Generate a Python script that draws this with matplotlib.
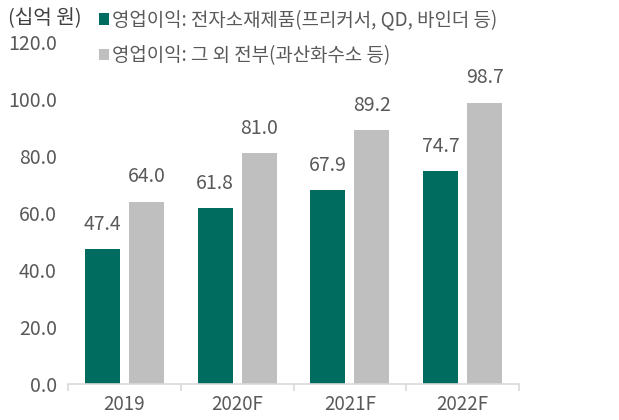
import matplotlib.pyplot as plt
import numpy as np

plt.rcParams['font.family'] = ['Noto Sans CJK KR', 'DejaVu Sans']

anni = ['2019', '2020F', '2021F', '2022F']
elettronica = [47.4, 61.8, 67.9, 74.7]
altro = [64.0, 81.0, 89.2, 98.7]
etichette = ['영업이익: 전자소재제품(프리커서, QD, 바인더 등)', '영업이익: 그 외 전부(과산화수소 등)']

verde = '#006B5F'
grigio = '#BFBFBF'
testo = '#595959'

fig = plt.figure(figsize=(6.19, 4.2), dpi=100)
ax = fig.add_axes([68/619, 36/420, 451/619, 342/420])

x = np.arange(len(anni))
w = 0.31
b1 = ax.bar(x - 0.195, elettronica, w, color=verde, label=etichette[0])
b2 = ax.bar(x + 0.195, altro, w, color=grigio, label=etichette[1])

for barre, valori in ((b1, elettronica), (b2, altro)):
    for b, v in zip(barre, valori):
        ax.text(b.get_x() + b.get_width()/2, v + 5, f'{v:.1f}',
                ha='center', va='bottom', fontsize=14, color=testo)

ax.set_xlim(-0.5, 3.5)
ax.set_ylim(0, 120)
ax.set_yticks(np.arange(0, 121, 20))
ax.set_yticklabels([f'{v:.1f}' for v in np.arange(0, 121, 20)])
ax.set_xticks(x)
ax.set_xticklabels(anni)
ax.set_xticks(np.arange(-0.5, 3.6, 1), minor=True)
ax.tick_params(axis='x', which='major', length=0, labelsize=13.5, colors=testo, pad=7)
ax.tick_params(axis='x', which='minor', length=5, color='#D9D9D9', width=1.2)
ax.tick_params(axis='y', length=0, labelsize=14, colors=testo, pad=8)

for s in ['top', 'right', 'left']:
    ax.spines[s].set_visible(False)
ax.spines['bottom'].set_color('#D9D9D9')
ax.spines['bottom'].set_linewidth(1.2)

fig.text(8/619, 1 - 19/420, '(십억 원)', fontsize=14.5, color='#404040', va='center')

leg = ax.legend(loc='upper left', bbox_to_anchor=(96/619, 1 - 7/420),
                bbox_transform=fig.transFigure, frameon=False, fontsize=13.6,
                borderaxespad=0.0, borderpad=0.15,
                handlelength=0.55, handleheight=0.55, handletextpad=0.15,
                labelspacing=0.75)
for t in leg.get_texts():
    t.set_color(testo)

fig.savefig('out.png', dpi=100)
